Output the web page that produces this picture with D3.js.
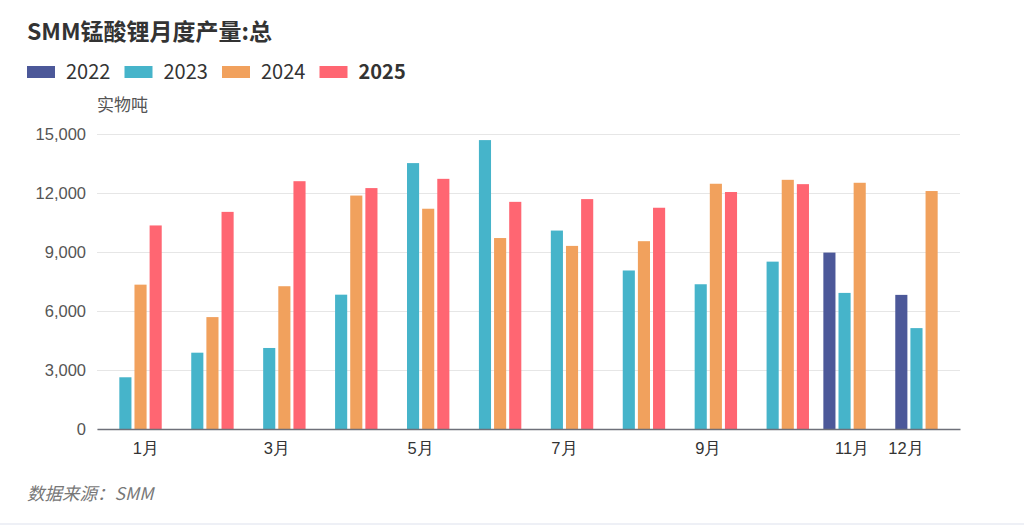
<!DOCTYPE html>
<meta charset="utf-8">
<style>
body { margin: 0; background: #fff; }
svg { font-family: "Noto Sans CJK SC", "Noto Sans", sans-serif; }
.grid line { stroke: #e6e6e6; }
.grid path { display: none; }
.axis--y path, .axis--y line { display: none; }
.axis--x line { display: none; }
.axis--x path { stroke: #6e7079; stroke-width: 1.5px; }
</style>
<svg width="1024" height="526"></svg>
<script src="https://cdn.jsdelivr.net/npm/d3@7/dist/d3.min.js"></script>
<script>

var months = ["1月", "2月", "3月", "4月", "5月", "6月", "7月", "8月", "9月", "10月", "11月", "12月"];
var series = ["2022", "2023", "2024", "2025"];
var colors = ["#4c5899", "#46b4ca", "#f1a15d", "#ff6672"];
var yTicks = [0, 3000, 6000, 9000, 12000, 15000];
var shownLabels = ["1月", "3月", "5月", "7月", "9月", "11月", "12月"];

var v2022 = [null, null, null, null, null, null, null, null, null, null, 8970, 6820];
var v2023 = [2630, 3880, 4120, 6830, 13520, 14690, 10090, 8060, 7360, 8510, 6920, 5130];
var v2024 = [7340, 5690, 7260, 11870, 11200, 9710, 9310, 9550, 12470, 12670, 12520, 12100];
var v2025 = [10350, 11040, 12600, 12250, 12720, 11550, 11690, 11250, 12050, 12450, null, null];
var values = [v2022, v2023, v2024, v2025];

var svg = d3.select("svg"),
    margin = {top: 134, right: 64, bottom: 97, left: 97},
    width = 1024 - margin.left - margin.right,
    height = 526 - margin.top - margin.bottom,
    g = svg.append("g").attr("transform", "translate(" + margin.left + "," + margin.top + ")");

var x0 = d3.scaleBand().domain(months).range([0, width]);
var x1 = d3.scaleBand().domain(series)
    .range([x0.bandwidth() * 0.1, x0.bandwidth() * 0.9])
    .paddingInner(0.2);
var y = d3.scaleLinear().domain([0, 15000]).range([height, 0]);

// title + legend
svg.append("text")
    .attr("x", 27).attr("y", 40)
    .attr("fill", "#333")
    .style("font-size", "23px").style("font-weight", "bold")
    .text("SMM锰酸锂月度产量:总");

var legend = svg.selectAll(".legend")
  .data(series)
  .enter().append("g")
    .attr("class", "legend")
    .attr("transform", function(d, i) { return "translate(" + (27 + i * 97.5) + ",66)"; });

legend.append("rect")
    .attr("width", 28).attr("height", 12)
    .attr("fill", function(d, i) { return colors[i]; });

legend.append("text")
    .attr("x", 39).attr("y", 6).attr("dy", "0.36em")
    .attr("fill", "#333")
    .style("font-size", "20px")
    .style("font-weight", function(d) { return d === "2025" ? "bold" : "normal"; })
    .text(function(d) { return d; });

svg.append("text")
    .attr("x", 97).attr("y", 111)
    .attr("fill", "#555")
    .style("font-size", "17px")
    .text("实物吨");

// grid
g.append("g")
    .attr("class", "grid")
    .call(d3.axisLeft(y).tickValues(yTicks).tickSize(-width).tickFormat(""));

g.append("g")
    .attr("class", "axis axis--y")
    .call(d3.axisLeft(y).tickValues(yTicks).tickFormat(d3.format(",")))
  .selectAll("text")
    .attr("x", -11)
    .attr("fill", "#555")
    .style("font-size", "16.5px");

// bars
var grp = g.selectAll(".month")
  .data(months)
  .enter().append("g")
    .attr("class", "month")
    .attr("transform", function(d) { return "translate(" + x0(d) + ",0)"; });

grp.selectAll("rect")
  .data(function(d, mi) {
    return series.map(function(s, si) { return {s: s, i: si, v: values[si][mi]}; })
      .filter(function(e) { return e.v != null; });
  })
  .enter().append("rect")
    .attr("x", function(d) { return x1(d.s); })
    .attr("width", x1.bandwidth())
    .attr("y", function(d) { return y(d.v); })
    .attr("height", function(d) { return height - y(d.v); })
    .attr("fill", function(d) { return colors[d.i]; });

// x axis
var xa = g.append("g")
    .attr("class", "axis axis--x")
    .attr("transform", "translate(0," + height + ")")
    .call(d3.axisBottom(x0).tickSizeOuter(0)
      .tickFormat(function(d) { return shownLabels.indexOf(d) >= 0 ? d : ""; }));

xa.selectAll("text")
    .attr("y", 13)
    .attr("fill", "#333")
    .style("font-size", "16.5px")
    .attr("dx", function(d) { return d === "1月" ? 13 : d === "12月" ? -18 : 0; });

// footer
svg.append("text")
    .attr("x", 27).attr("y", 500)
    .attr("fill", "#777")
    .style("font-size", "17.5px").style("font-style", "italic")
    .text("数据来源：SMM");

svg.append("line")
    .attr("x1", 0).attr("x2", 1024)
    .attr("y1", 524).attr("y2", 524)
    .attr("stroke", "#eef0f6").attr("stroke-width", 2);

</script>
